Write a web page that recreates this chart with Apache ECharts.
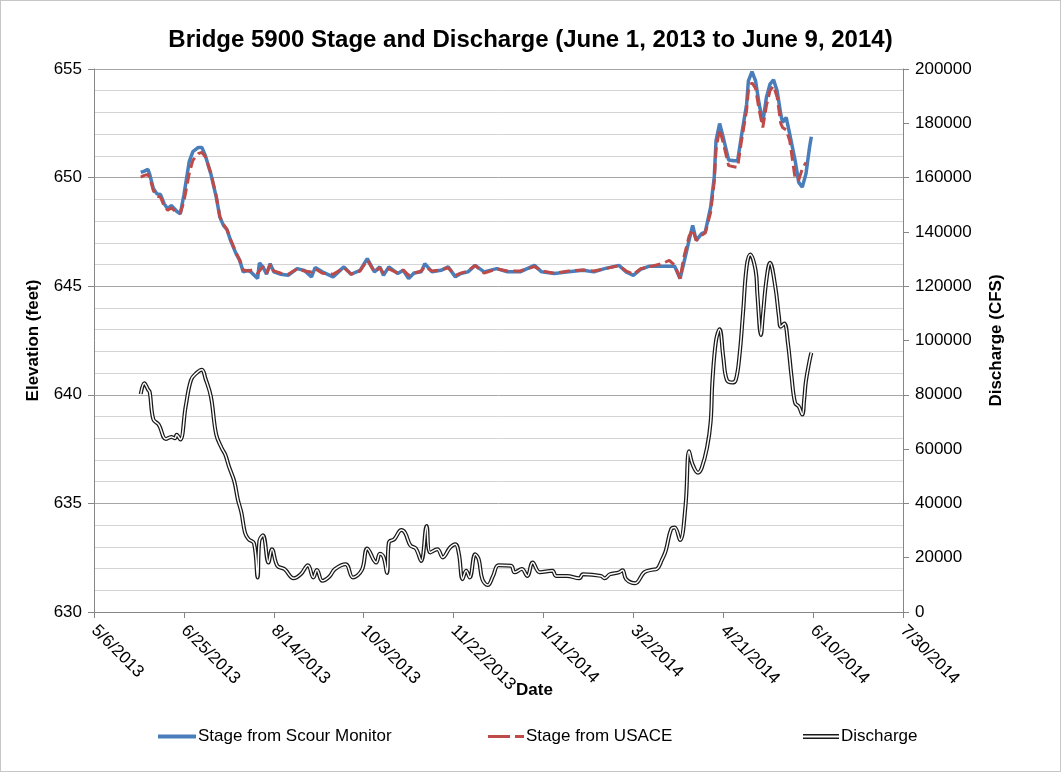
<!DOCTYPE html>
<html>
<head>
<meta charset="utf-8">
<title>Bridge 5900 Stage and Discharge</title>
<script src="https://cdn.jsdelivr.net/npm/echarts@6/dist/echarts.min.js"></script>
<style>
  html, body { margin: 0; padding: 0; background: #fff; }
  #chart { width: 1061px; height: 772px; box-sizing: border-box; border: 1px solid #c6c6c6; }
</style>
</head>
<body>
<div id="chart"></div>
<script>
  // days are counted from June 1, 2013
  const stageDays = [0, 2, 4, 5, 7, 9, 11, 13, 15, 17, 20, 22, 24, 27, 29, 32, 34, 36, 39, 42, 44, 46, 48, 50, 53, 55, 57, 60, 62, 65, 66, 68, 70, 72, 74, 78, 82, 87, 91, 95, 97, 101, 107, 113, 117, 122, 126, 130, 133, 135, 138, 143, 146, 149, 152, 156, 158, 162, 167, 171, 175, 178, 182, 186, 191, 198, 204, 211, 219, 223, 230, 238, 246, 252, 258, 266, 270, 274, 278, 283, 290, 294, 297, 300, 302, 305, 307, 309, 312, 314, 317, 319, 320, 322, 324, 327, 330, 332, 334, 337, 338, 340, 342, 344, 346, 348, 350, 352, 354, 356, 357, 359, 361, 364, 366, 368, 370, 372, 373]
  const stageScour = [650.24, 650.3, 650.38, 650.15, 649.5, 649.25, 649.22, 648.8, 648.56, 648.72, 648.45, 648.33, 649.2, 650.75, 651.2, 651.39, 651.39, 651.0, 650.17, 649.1, 648.18, 647.8, 647.6, 647.1, 646.5, 646.2, 645.66, 645.73, 645.6, 645.35, 646.07, 645.89, 645.55, 646.04, 645.66, 645.55, 645.5, 645.81, 645.73, 645.43, 645.86, 645.66, 645.43, 645.89, 645.55, 645.73, 646.27, 645.66, 645.89, 645.5, 645.89, 645.58, 645.73, 645.35, 645.61, 645.66, 646.04, 645.66, 645.73, 645.89, 645.43, 645.58, 645.66, 645.96, 645.66, 645.81, 645.66, 645.66, 645.96, 645.66, 645.58, 645.66, 645.73, 645.66, 645.81, 645.96, 645.66, 645.5, 645.77, 645.92, 645.92, 645.92, 645.92, 645.35, 646.04, 647.11, 647.8, 647.11, 647.42, 647.49, 648.64, 650.01, 651.7, 652.49, 651.85, 650.81, 650.78, 650.78, 651.85, 653.38, 654.45, 654.88, 654.45, 653.38, 652.54, 653.68, 654.3, 654.5, 653.99, 652.92, 652.54, 652.77, 652.0, 650.78, 649.78, 649.56, 650.17, 651.39, 651.88]
  const stageUsace = [650.02, 650.1, 650.15, 650.0, 649.4, 649.15, 649.1, 648.7, 648.5, 648.6, 648.4, 648.35, 648.9, 650.2, 650.8, 651.1, 651.16, 650.95, 650.2, 649.15, 648.2, 647.85, 647.6, 647.15, 646.55, 646.2, 645.75, 645.7, 645.75, 645.6, 645.7, 645.9, 645.6, 646.0, 645.7, 645.6, 645.55, 645.8, 645.7, 645.65, 645.8, 645.6, 645.55, 645.85, 645.55, 645.7, 646.2, 645.65, 645.85, 645.6, 645.8, 645.6, 645.75, 645.5, 645.6, 645.7, 645.9, 645.7, 645.75, 645.85, 645.5, 645.6, 645.7, 645.95, 645.6, 645.8, 645.7, 645.7, 645.9, 645.7, 645.6, 645.7, 645.75, 645.7, 645.8, 645.95, 645.7, 645.55, 645.8, 645.9, 646.04, 646.19, 645.96, 645.35, 646.3, 647.3, 647.6, 647.1, 647.35, 647.45, 648.4, 649.8, 651.3, 652.23, 651.6, 650.55, 650.5, 650.47, 651.6, 653.1, 654.0, 654.37, 654.1, 653.1, 652.31, 653.3, 654.0, 654.22, 653.7, 652.5, 652.31, 652.2, 651.7, 649.95, 649.9, 650.4, 650.7, null, null]

  const flowDays = [0, 2, 4, 5, 7, 10, 14, 17, 19, 20, 22, 25, 28, 31, 34, 36, 39, 42, 45, 47, 49, 52, 54, 56, 58, 60, 63, 65, 66, 68, 71, 73, 76, 80, 85, 89, 93, 96, 98, 101, 105, 108, 114, 118, 123, 126, 131, 133, 135, 137, 138, 141, 145, 147, 150, 153, 156, 159, 161, 165, 168, 172, 175, 177, 179, 181, 183, 186, 188, 190, 193, 196, 199, 206, 208, 212, 215, 218, 222, 229, 231, 237, 244, 246, 256, 258, 261, 266, 268, 270, 275, 280, 284, 287, 290, 292, 295, 297, 300, 303, 305, 307, 310, 312, 315, 317, 318, 320, 322, 324, 326, 329, 331, 333, 335, 337, 339, 342, 343, 345, 346, 348, 350, 353, 355, 356, 358, 360, 362, 364, 366, 368, 369, 370, 372, 373]
  const flowCfs = [80300, 84300, 82000, 81000, 71000, 69000, 63700, 64500, 64000, 65300, 63500, 75700, 85500, 88000, 89200, 86000, 79400, 65300, 60400, 58000, 53700, 48200, 41500, 36600, 29200, 26800, 25300, 12700, 26200, 28300, 18200, 23100, 17000, 15800, 12400, 13900, 17200, 12700, 15500, 11500, 13100, 15800, 17600, 12700, 15500, 23400, 18200, 21500, 20400, 14400, 25600, 26800, 30200, 29200, 24500, 23400, 18800, 31700, 21900, 23100, 20100, 23700, 25000, 21300, 12100, 15200, 12700, 21300, 19400, 12100, 9900, 13300, 17200, 17000, 14600, 15800, 13300, 18200, 14600, 15200, 13300, 13300, 12400, 13900, 13300, 12400, 13900, 14600, 15400, 12100, 10600, 14600, 15500, 15800, 19400, 22500, 30500, 31100, 26500, 39000, 59200, 54300, 51300, 53000, 60500, 70000, 85000, 100000, 104100, 94100, 85500, 84500, 85500, 94100, 110000, 127100, 131700, 125900, 117000, 102000, 108700, 122200, 128600, 119700, 108700, 105100, 106300, 99000, 86700, 77000, 75700, 72700, 78000, 85000, 92500, 95500]

  // x axis runs in days from 5/6/2013; June 1 is day 26
  const axisStart = new Date(2013, 4, 6)
  const startOffset = 26

  function pairs(days, vals) {
    return days.map((d, i) => [d + startOffset, vals[i]])
  }

  function dateLabel(v) {
    let d = new Date(axisStart.getFullYear(), axisStart.getMonth(), axisStart.getDate() + v)
    return (d.getMonth() + 1) + '/' + d.getDate() + '/' + d.getFullYear()
  }

  const font = 'Liberation Sans, Arial, sans-serif'
  const axisGray = '#868686'

  let myChart = echarts.init(document.getElementById('chart'))
  myChart.setOption({
    animation: false,
    textStyle: {fontFamily: font},
    title: {
      text: 'Bridge 5900 Stage and Discharge (June 1, 2013 to June 9, 2014)',
      left: 'center',
      top: 22,
      textStyle: {fontSize: 24, fontWeight: 'bold', color: '#000', fontFamily: font}
    },
    legend: [
      {
        left: 152, top: 722,
        itemWidth: 38, itemHeight: 4, itemGap: 0,
        icon: 'rect',
        textStyle: {fontSize: 17, color: '#000', padding: [0, 0, 0, -3]},
        itemStyle: {borderWidth: 0},
        data: ['Stage from Scour Monitor']
      },
      {
        left: 482, top: 722,
        itemWidth: 36, itemHeight: 3,
        icon: 'path://M0,0H22V3H0Z M27,0H36V3H27Z',
        textStyle: {fontSize: 17, color: '#000', padding: [0, 0, 0, -3]},
        itemStyle: {borderWidth: 0},
        data: ['Stage from USACE']
      },
      {
        left: 797, top: 722,
        itemWidth: 36, itemHeight: 5,
        icon: 'path://M0,0H36V1.5H0Z M0,3.5H36V5H0Z',
        textStyle: {fontSize: 17, color: '#000', padding: [0, 0, 0, -3]},
        itemStyle: {borderWidth: 0},
        data: ['Discharge']
      }
    ],
    grid: {left: 93, right: 157, top: 68, bottom: 159},
    xAxis: {
      type: 'value',
      min: 0,
      max: 450,
      interval: 50,
      name: 'Date',
      nameLocation: 'middle',
      nameGap: 70,
      nameMoveOverlap: false,
      nameTextStyle: {fontSize: 17, fontWeight: 'bold', color: '#000', padding: [0, 0, 0, 72]},
      axisLine: {lineStyle: {color: axisGray}},
      axisTick: {show: true, length: 6, lineStyle: {color: axisGray}},
      axisLabel: {rotate: -45, margin: 16, fontSize: 17, color: '#000', formatter: dateLabel},
      splitLine: {show: false}
    },
    yAxis: [
      {
        type: 'value',
        min: 630,
        max: 655,
        interval: 5,
        name: 'Elevation (feet)',
        nameLocation: 'middle',
        nameGap: 52,
        nameMoveOverlap: false,
        nameTextStyle: {fontSize: 17, fontWeight: 'bold', color: '#000'},
        axisLine: {show: true, lineStyle: {color: axisGray}},
        axisTick: {show: true, length: 6, lineStyle: {color: axisGray}},
        axisLabel: {margin: 12, fontSize: 17, color: '#000'},
        splitLine: {lineStyle: {color: '#a6a6a6', width: 1}},
        minorTick: {show: false, splitNumber: 5},
        minorSplitLine: {show: true, lineStyle: {color: '#d4d4d4', width: 1}}
      },
      {
        type: 'value',
        min: 0,
        max: 200000,
        interval: 20000,
        name: 'Discharge (CFS)',
        nameLocation: 'middle',
        nameGap: 85,
        nameMoveOverlap: false,
        nameRotate: 90,
        nameTextStyle: {fontSize: 17, fontWeight: 'bold', color: '#000'},
        axisLine: {show: true, lineStyle: {color: axisGray}},
        axisTick: {show: true, length: 6, lineStyle: {color: axisGray}},
        axisLabel: {margin: 12, fontSize: 17, color: '#000', formatter: v => String(v)},
        splitLine: {show: false}
      }
    ],
    series: [
      {
        name: 'Stage from Scour Monitor',
        type: 'line',
        yAxisIndex: 0,
        showSymbol: false,
        symbol: 'none',
        color: '#4A7EBB',
        lineStyle: {color: '#4A7EBB', width: 3.5},
        data: pairs(stageDays, stageScour)
      },
      {
        name: 'Stage from USACE',
        type: 'line',
        yAxisIndex: 0,
        showSymbol: false,
        symbol: 'none',
        color: '#BE4B48',
        lineStyle: {color: '#BE4B48', width: 3, type: [11, 5]},
        data: pairs(stageDays, stageUsace)
      },
      {
        name: 'Discharge',
        type: 'line',
        yAxisIndex: 1,
        smooth: 0.4,
        showSymbol: false,
        symbol: 'none',
        color: '#1a1a1a',
        lineStyle: {color: '#1a1a1a', width: 4},
        data: pairs(flowDays, flowCfs)
      },
      {
        // white core gives the double-line look
        name: 'Discharge core',
        type: 'line',
        yAxisIndex: 1,
        smooth: 0.4,
        showSymbol: false,
        symbol: 'none',
        silent: true,
        color: '#ffffff',
        lineStyle: {color: '#ffffff', width: 1.5},
        data: pairs(flowDays, flowCfs)
      }
    ]
  })
</script>
</body>
</html>
